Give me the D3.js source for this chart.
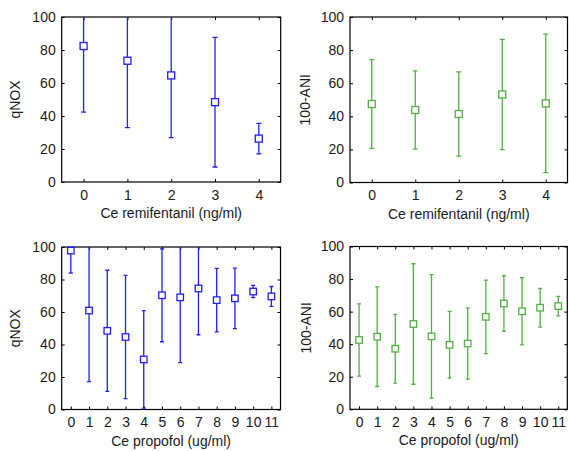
<!DOCTYPE html>
<html>
<head>
<meta charset="utf-8">
<script src="https://cdn.jsdelivr.net/npm/d3@7"></script>
<style>
html,body{margin:0;padding:0;background:#fff;}
svg text{font-family:"Liberation Sans",Arial,sans-serif;fill:#1a1a1a;}
</style>
</head>
<body>
<svg id="chart" width="569" height="451"></svg>
<script>
// ---- data ----
const remiDoses = [0, 1, 2, 3, 4];
const remiNoxMean = [82.4, 73.5, 64.6, 48.4, 26.3];
const remiNoxErr  = [40.0, 40.6, 37.7, 39.3, 9.2];
const remiAniMean = [47.4, 43.8, 41.4, 53.2, 47.8];
const remiAniErr  = [26.8, 23.6, 25.5, 33.3, 41.8];

const propoDoses = [0, 1, 2, 3, 4, 5, 6, 7, 8, 9, 10, 11];
const propoNoxMean = [97.8, 60.9, 48.4, 44.6, 30.8, 70.3, 69.0, 74.5, 67.3, 68.4, 72.6, 69.6];
const propoNoxErr  = [13.8, 43.8, 37.3, 37.9, 30.0, 28.6, 40.1, 28.5, 19.5, 18.6, 3.8, 6.1];
const propoAniMean = [42.6, 44.6, 37.2, 52.4, 44.8, 39.6, 40.4, 56.8, 65.0, 60.2, 62.4, 63.4];
const propoAniErr  = [22.2, 30.6, 21.1, 37.0, 37.9, 20.5, 21.9, 22.6, 17.1, 20.6, 11.9, 6.0];

const yTicks = [0, 20, 40, 60, 80, 100];
const blue = "#1f1fff";
const green = "#52b043";
const fs = 14;

const svg = d3.select("#chart");

function panel(opts) {
  const {x0, x1, y0, y1, doses, mean, err, color, ylabel, xlabel, id, markerSize, capW} = opts;
  const x = d3.scaleLinear().domain([doses[0] - 0.5, doses[doses.length - 1] + 0.5]).range([x0, x1]);
  const y = d3.scaleLinear().domain([0, 100]).range([y1, y0]);
  const g = svg.append("g");

  g.append("clipPath").attr("id", id).append("rect")
    .attr("x", x0).attr("y", y0).attr("width", x1 - x0).attr("height", y1 - y0);

  // axes (MATLAB style, ticks inward on all sides)
  const tl = 3;
  g.append("g").attr("transform", `translate(0,${y1})`)
    .call(d3.axisBottom(x).tickValues(doses).tickSizeInner(-tl).tickSizeOuter(0).tickPadding(8).tickFormat(d3.format("d")))
    .call(a => { a.select(".domain").remove(); a.selectAll("text").attr("font-size", fs).attr("fill","#1a1a1a"); a.selectAll("line").attr("stroke","#000"); });
  g.append("g").attr("transform", `translate(0,${y0})`)
    .call(d3.axisTop(x).tickValues(doses).tickSizeInner(-tl).tickSizeOuter(0).tickFormat(""))
    .call(a => { a.select(".domain").remove(); a.selectAll("line").attr("stroke","#000"); });
  g.append("g").attr("transform", `translate(${x0},0)`)
    .call(d3.axisLeft(y).tickValues(yTicks).tickSizeInner(-tl).tickSizeOuter(0).tickPadding(6))
    .call(a => { a.select(".domain").remove(); a.selectAll("text").attr("font-size", fs).attr("fill","#1a1a1a"); a.selectAll("line").attr("stroke","#000"); });
  g.append("g").attr("transform", `translate(${x1},0)`)
    .call(d3.axisRight(y).tickValues(yTicks).tickSizeInner(-tl).tickSizeOuter(0).tickFormat(""))
    .call(a => { a.select(".domain").remove(); a.selectAll("line").attr("stroke","#000"); });

  g.append("rect").attr("x", x0).attr("y", y0).attr("width", x1 - x0).attr("height", y1 - y0)
    .attr("fill", "none").attr("stroke", "#000").attr("stroke-width", 1.2);

  const data = doses.map((d, i) => ({d, m: mean[i], e: err[i]}));
  const eb = g.append("g").attr("clip-path", `url(#${id})`).attr("stroke", color).attr("stroke-width", 1.3).attr("fill", "none");
  eb.selectAll(".v").data(data).join("line")
    .attr("x1", p => x(p.d)).attr("x2", p => x(p.d))
    .attr("y1", p => y(p.m - p.e)).attr("y2", p => y(p.m + p.e));
  eb.selectAll(".lo").data(data).join("line")
    .attr("x1", p => x(p.d) - capW / 2).attr("x2", p => x(p.d) + capW / 2)
    .attr("y1", p => y(p.m - p.e)).attr("y2", p => y(p.m - p.e));
  eb.selectAll(".hi").data(data).join("line")
    .attr("x1", p => x(p.d) - capW / 2).attr("x2", p => x(p.d) + capW / 2)
    .attr("y1", p => y(p.m + p.e)).attr("y2", p => y(p.m + p.e));

  g.append("g").selectAll("rect").data(data).join("rect")
    .attr("x", p => x(p.d) - markerSize / 2).attr("y", p => y(p.m) - markerSize / 2)
    .attr("width", markerSize).attr("height", markerSize)
    .attr("fill", "#fff").attr("stroke", color).attr("stroke-width", 1.3);

  g.append("text").attr("x", (x0 + x1) / 2).attr("y", y1 + 36).attr("text-anchor", "middle")
    .attr("font-size", fs).text(xlabel);
  g.append("text").attr("transform", `translate(${opts.ylx},${(y0 + y1) / 2}) rotate(-90)`)
    .attr("text-anchor", "middle").attr("dy", "0.35em").attr("font-size", fs).text(ylabel);
}

panel({id:"c1", x0:61.7, x1:280.7, y0:17, y1:182, doses:remiDoses, mean:remiNoxMean, err:remiNoxErr,
  color:blue, ylabel:"qNOX", xlabel:"Ce remifentanil (ng/ml)", ylx:15, markerSize:7, capW:5});
panel({id:"c2", x0:350, x1:567.5, y0:17, y1:182.5, doses:remiDoses, mean:remiAniMean, err:remiAniErr,
  color:green, ylabel:"100-ANI", xlabel:"Ce remifentanil (ng/ml)", ylx:305, markerSize:7, capW:5});
panel({id:"c3", x0:61.7, x1:280.5, y0:247, y1:409.5, doses:propoDoses, mean:propoNoxMean, err:propoNoxErr,
  color:blue, ylabel:"qNOX", xlabel:"Ce propofol (ug/ml)", ylx:15, markerSize:6.5, capW:4});
panel({id:"c4", x0:350, x1:567.3, y0:246.5, y1:409.3, doses:propoDoses, mean:propoAniMean, err:propoAniErr,
  color:green, ylabel:"100-ANI", xlabel:"Ce propofol (ug/ml)", ylx:306, markerSize:6.5, capW:4});
</script>
</body>
</html>
